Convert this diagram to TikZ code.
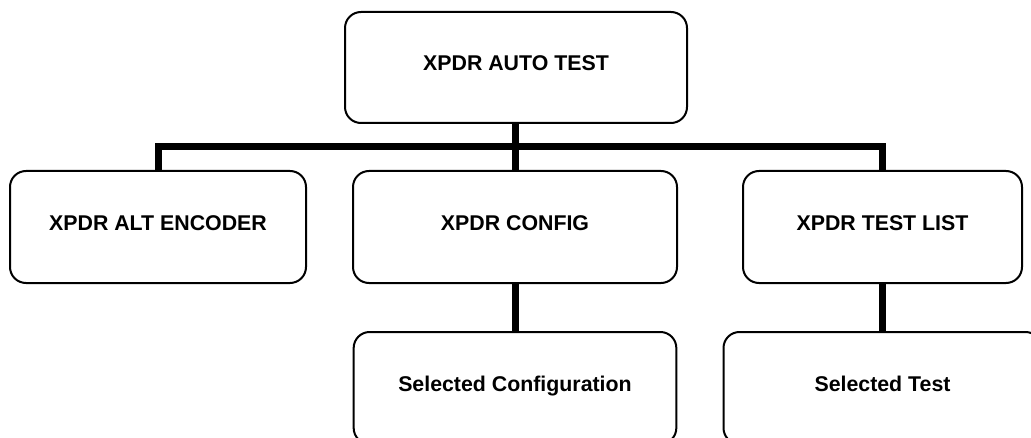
\documentclass[tikz,border=0pt]{standalone}
\usepackage{fontspec}
\setmainfont{Liberation Sans}
\usetikzlibrary{positioning, backgrounds}

\begin{document}
\begin{tikzpicture}[x=0.75pt, y=-0.75pt,
    every node/.style={inner sep=0pt},
    box/.style={draw, line width=1.5pt, rounded corners=12pt, fill=white,
        minimum height=84pt, text height=0.72em, text depth=0.21em,
        font=\fontsize{16}{19}\selectfont\bfseries},
    conn/.style={line width=5.25pt}]

% Page frame
\useasboundingbox (0,0) rectangle (1031,438);

% Top of the tree
\node[box, minimum width=256.5pt, minimum height=83.25pt] (auto) at (516,67.5) {XPDR AUTO TEST};

% Second row
\node[box, minimum width=222pt] (alt) at (158,227) {XPDR ALT ENCODER};
\node[box, minimum width=243pt] (config) at (515,227) {XPDR CONFIG};
\node[box, minimum width=209.25pt] (list) at (882.5,227) {XPDR TEST LIST};

% Third row - below its parent
\node[box, minimum width=242pt, below=35.25pt of config] (selconf) {Selected Configuration};
\node[box, minimum width=238.5pt, below=35.25pt of list] (seltest) {Selected Test};

% Connectors - behind the boxes
\coordinate (bus) at (515.5,146.5);
\begin{scope}[on background layer]
    \draw[conn] (alt.north) |- (bus) -| (list.north);
    \draw[conn] (auto.south -| bus) -- (config.north -| bus);
    \draw[conn] (config.south) -- (selconf.north);
    \draw[conn] (list.south) -- (seltest.north);
\end{scope}
\end{tikzpicture}
\end{document}
